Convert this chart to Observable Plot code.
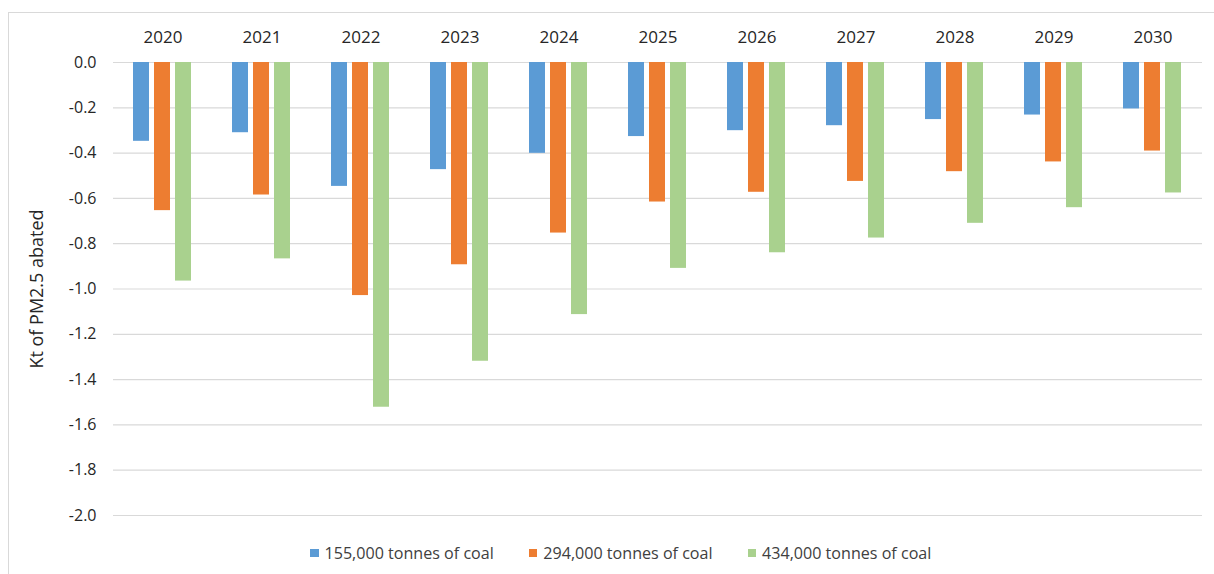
<!DOCTYPE html>
<html>
<head>
<meta charset="utf-8">
<script src="https://cdn.jsdelivr.net/npm/d3@7"></script>
<script src="https://cdn.jsdelivr.net/npm/@observablehq/plot@0.6"></script>
<style>
  html, body { margin: 0; padding: 0; background: #fff; }
  body { width: 1214px; height: 574px; position: relative; overflow: hidden; font-family: "Open Sans", "Liberation Sans", sans-serif; }
  #frame { position: absolute; left: 8px; top: 12px; width: 1210px; height: 566px; border-top: 1.5px solid #d9d9d9; border-left: 1.5px solid #d9d9d9; }
  #chart { position: absolute; left: 0; top: 0; }
  #legend { position: absolute; left: 310px; top: 541px; height: 24px; display: flex; gap: 35px; font-size: 16.1px; line-height: 24px; color: #404040; white-space: nowrap; }
  #legend .item { display: flex; align-items: center; }
  #legend .sw { width: 8.5px; height: 8.5px; margin-right: 6px; display: inline-block; }
</style>
</head>
<body>
<div id="frame"></div>
<div id="chart"></div>
<div id="legend"></div>
<script>
const years = ["2020","2021","2022","2023","2024","2025","2026","2027","2028","2029","2030"];
const seriesNames = ["155,000 tonnes of coal", "294,000 tonnes of coal", "434,000 tonnes of coal"];
const seriesColors = ["#5B9BD5", "#ED7D31", "#A9D18E"];
const values155 = [-0.348, -0.310, -0.547, -0.473, -0.401, -0.327, -0.301, -0.279, -0.252, -0.232, -0.205];
const values294 = [-0.654, -0.585, -1.029, -0.893, -0.753, -0.616, -0.573, -0.525, -0.482, -0.439, -0.391];
const values434 = [-0.965, -0.867, -1.522, -1.319, -1.113, -0.909, -0.840, -0.775, -0.710, -0.641, -0.576];
const yTicks = [0, -0.2, -0.4, -0.6, -0.8, -1.0, -1.2, -1.4, -1.6, -1.8, -2.0];

const seriesValues = [values155, values294, values434];
const data = [];
years.forEach((yr, i) => {
  seriesNames.forEach((s, j) => data.push({year: yr, series: s, value: seriesValues[j][i]}));
});

const chart = Plot.plot({
  width: 1214,
  height: 540,
  marginLeft: 113,
  marginRight: 12,
  marginTop: 62,
  marginBottom: 25,
  style: {fontFamily: '"Open Sans", "Liberation Sans", sans-serif', color: "#404040", background: "transparent"},
  fx: {domain: years, padding: 0, label: null},
  x: {domain: seriesNames, paddingInner: 0.23, paddingOuter: 0.9, axis: null},
  y: {domain: [-2, 0], label: null},
  color: {domain: seriesNames, range: seriesColors},
  marks: [
    Plot.ruleY(yTicks, {stroke: "#d9d9d9", strokeWidth: 1.2}),
    Plot.barY(data, {fx: "year", x: "series", y1: 0, y2: "value", fill: "series"}),
    Plot.axisFx({anchor: "top", tickSize: 0, tickPadding: 20, fontSize: 17, label: null, fill: "#262626"}),
    Plot.axisY({ticks: yTicks, tickSize: 0, tickPadding: 17, fontSize: 16, tickFormat: d => d.toFixed(1),
      label: "Kt of PM2.5 abated", labelAnchor: "center", labelArrow: "none", labelOffset: 83, fill: "#262626"})
  ]
});
// enlarge axis label font
chart.querySelectorAll("text").forEach(t => {
  if (t.textContent === "Kt of PM2.5 abated") { t.setAttribute("font-size", 18); t.style.fontSize = "18px"; }
});
document.getElementById("chart").appendChild(chart);

const legend = document.getElementById("legend");
seriesNames.forEach((s, j) => {
  const item = document.createElement("div");
  item.className = "item";
  const sw = document.createElement("span");
  sw.className = "sw";
  sw.style.background = seriesColors[j];
  item.appendChild(sw);
  item.appendChild(document.createTextNode(s));
  legend.appendChild(item);
});
</script>
</body>
</html>
